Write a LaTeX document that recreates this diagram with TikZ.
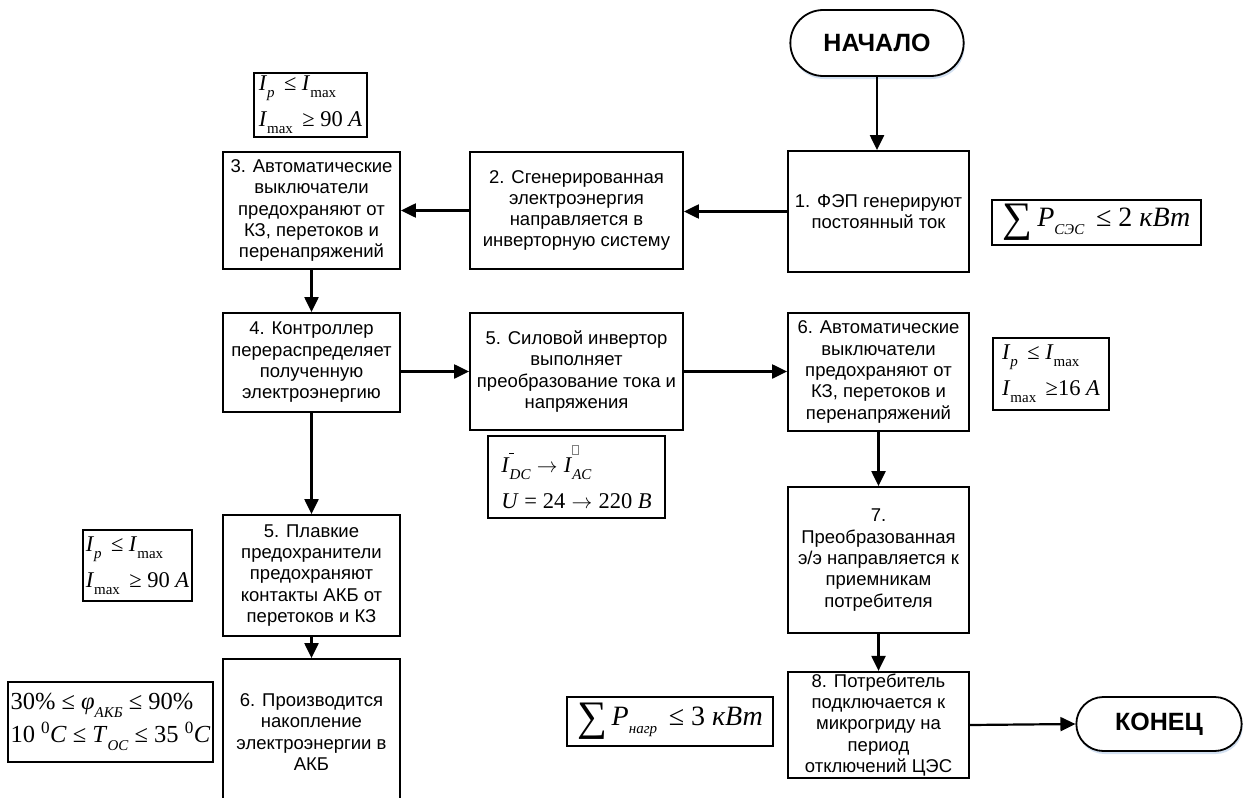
\documentclass[tikz,border=0pt]{standalone}
\usepackage{fontspec}
\setmainfont{Liberation Sans}
\newfontfamily\tms{Liberation Serif}
\usetikzlibrary{arrows.meta,shapes.misc,shadows}
\newcommand{\lowidx}[1]{\raisebox{-0.3em}{\fontsize{15}{15}\selectfont #1}}
\newcommand{\mI}{\textit{I}}
\newcommand{\bigsum}{\raisebox{-0.2em}{\fontsize{42}{42}\selectfont ∑}}
\newcommand{\accmark}[1]{\makebox[0pt][l]{\raisebox{0.85em}{\hspace{0.35em}#1}}}
\newcommand{\longto}{\;$\rightarrow$\;}

\begin{document}
\begin{tikzpicture}[x=1pt,y=-1pt,
        stepbox/.style={draw,line width=1.8pt,align=center,inner sep=2pt,
                font=\fontsize{18.5}{21.3}\selectfont},
        termbox/.style={draw,rounded rectangle,line width=1.8pt,fill=white,
                font=\fontsize{25}{25}\selectfont\bfseries,
                drop shadow={shadow xshift=1pt,shadow yshift=-3pt,fill=cyan!40!blue,opacity=0.2}},
        formbox/.style={draw,line width=1.5pt,align=left,inner sep=1pt,
                font=\tms\fontsize{22.5}{36}\selectfont},
        arr/.style={line width=2.2pt,-{Triangle[length=15pt,width=14pt]}}]
        \useasboundingbox (0,0) rectangle (1256,798);
        % terminators
        \node[termbox,minimum width=180pt,minimum height=66pt] (start) at (877,43) {НАЧАЛО};
        \node[termbox,minimum width=172pt,minimum height=54pt] (end) at (1159,724) {КОНЕЦ};
        % steps
        \node[stepbox,minimum width=181pt,minimum height=121pt] (b1) at (878.5,211.5) {1. ФЭП генерируют\\постоянный ток};
        \node[stepbox,minimum width=213pt,minimum height=117pt] (b2) at (576.5,210.5) {2. Сгенерированная\\электроэнергия\\направляется в\\инверторную систему};
        \node[stepbox,minimum width=177pt,minimum height=117pt] (b3) at (311.5,210.5) {3. Автоматические\\выключатели\\предохраняют от\\КЗ, перетоков и\\перенапряжений};
        \node[stepbox,minimum width=177pt,minimum height=99pt] (b4) at (311.5,362.5) {4. Контроллер\\перераспределяет\\полученную\\электроэнергию};
        \node[stepbox,minimum width=213pt,minimum height=117pt] (b5inv) at (576.5,371.5) {5. Силовой инвертор\\выполняет\\преобразование тока и\\напряжения};
        \node[stepbox,minimum width=181pt,minimum height=118pt] (b6) at (878.5,372) {6. Автоматические\\выключатели\\предохраняют от\\КЗ, перетоков и\\перенапряжений};
        \node[stepbox,minimum width=181pt,minimum height=146pt] (b7) at (878.5,560) {7.\\Преобразованная\\э/э направляется к\\приемникам\\потребителя};
        \node[stepbox,minimum width=181pt,minimum height=104pt] (b8) at (878.5,725) {8. Потребитель\\подключается к\\микрогриду на\\период\\отключений ЦЭС};
        \node[stepbox,minimum width=177pt,minimum height=121pt] (b5fuse) at (311.5,575.5) {5. Плавкие\\предохранители\\предохраняют\\контакты АКБ от\\перетоков и КЗ};
        \node[stepbox,minimum width=177pt,minimum height=146pt] (b6acc) at (311.5,732) {6. Производится\\накопление\\электроэнергии в\\АКБ};
        % conditions
        \node[formbox,minimum width=113pt,minimum height=64pt] (fA) at (310.5,105) {\mI\lowidx{\textit{p}} \,≤ \mI\lowidx{max}\\\mI\lowidx{max} \,≥ 90 \textit{A}};
        \node[formbox,minimum width=209pt,minimum height=45pt,font=\tms\fontsize{28}{30}\selectfont] (fP1) at (1096.5,222.5) {\bigsum\,\textit{P}\lowidx{\textit{СЭС}} \,≤ 2 \textit{кВт}};
        \node[formbox,minimum width=116pt,minimum height=72pt] (fB) at (1051,374) {\mI\lowidx{\textit{p}} \,≤ \mI\lowidx{max}\\\mI\lowidx{max} \,≥16 \textit{A}};
        \node[formbox,minimum width=177pt,minimum height=82pt] (fC) at (576.5,477) {\accmark{\rule{5pt}{0.7pt}}\mI\lowidx{\textit{DC}}\longto\accmark{\textcolor{gray}{\fboxsep=0pt\fboxrule=0.5pt\fbox{\rule{0pt}{8pt}\hspace{6pt}}}}\mI\lowidx{\textit{AC}}\\\textit{U} = 24\longto220 \textit{B}};
        \node[formbox,minimum width=109pt,minimum height=71pt] (fD) at (137.5,565.5) {\mI\lowidx{\textit{p}} \,≤ \mI\lowidx{max}\\\mI\lowidx{max} \,≥ 90 \textit{A}};
        \node[formbox,minimum width=205pt,minimum height=80pt,font=\tms\fontsize{24.5}{33}\selectfont] (fE) at (110.5,722) {30\% ≤ \textit{φ}\lowidx{\textit{АКБ}} ≤ 90\%\\10 \textsuperscript{0}\textit{C} ≤ \textit{T}\lowidx{\textit{ОС}} ≤ 35 \textsuperscript{0}\textit{C}};
        \node[formbox,minimum width=206pt,minimum height=49pt,font=\tms\fontsize{28}{30}\selectfont] (fP2) at (670,721.5) {\bigsum\,\textit{P}\lowidx{\textit{нагр}} \,≤ 3 \textit{кВт}};
        % arrows
        \foreach \a/\b in {start/b1,b3/b4,b6/b7,b7/b8,b4/b5fuse,b5fuse/b6acc}
        {
                \draw[arr] (\a.south) -- (\b.north -| \a.south);
        }
        \draw[arr] (b1.west) -- (b2.east |- b1.west);
        \draw[arr] (b2.west) -- (b3.east);
        \draw[arr] (b4.east |- b5inv.west) -- (b5inv.west);
        \draw[arr] (b5inv.east) -- (b6.west |- b5inv.east);
        \draw[arr] (b8.east) -- (end.west);
\end{tikzpicture}
\end{document}
